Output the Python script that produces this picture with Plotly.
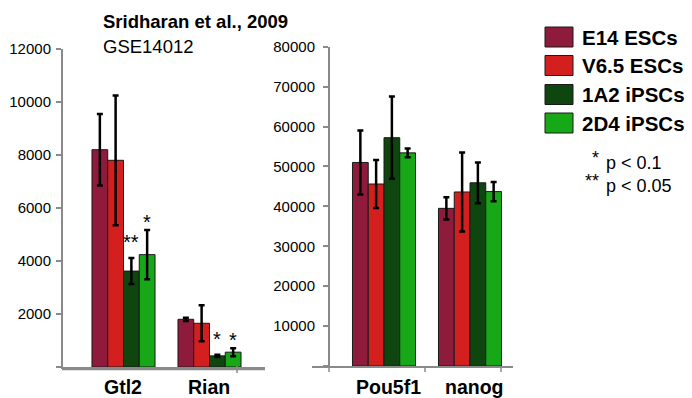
import plotly.graph_objects as go

# ---- data ----
series = ["E14 ESCs", "V6.5 ESCs", "1A2 iPSCs", "2D4 iPSCs"]
colors = ["#8e1a3c", "#d41f1f", "#0f460f", "#16a816"]

genes_low = ["Gtl2", "Rian"]
genes_high = ["Pou5f1", "nanog"]

# expression means per series (rows) and gene (cols)
low_vals = [[8200, 1800], [7800, 1650], [3620, 420], [4240, 560]]
low_errs = [[1350, 60], [2450, 680], [490, 40], [930, 150]]
high_vals = [[51000, 39500], [45600, 43600], [57200, 45900], [53400, 43700]]
high_errs = [[8000, 2800], [6000, 9900], [10300, 5100], [1100, 2400]]

# significance marks (same layout as low_vals)
low_sig = [["", ""], ["", ""], ["**", "*"], ["*", "*"]]

low_ticks = [0, 2000, 4000, 6000, 8000, 10000, 12000]
high_ticks = [0, 10000, 20000, 30000, 40000, 50000, 60000, 70000, 80000]

p_key = [("*", "p < 0.1"), ("**", "p < 0.05")]

W, H = 692, 398
FONT = "Liberation Sans, Arial, Helvetica, sans-serif"
AX = "#8a8a8a"


def fx(p):
    return p / W


def fy(p):
    return 1 - p / H


fig = go.Figure()

for i, name in enumerate(series):
    fig.add_trace(go.Bar(
        x=list(range(len(genes_low))), y=low_vals[i], name=name,
        marker=dict(color=colors[i], line=dict(color="#1a1a1a", width=1)),
        error_y=dict(type="data", array=low_errs[i], color="black", thickness=2.5, width=3),
        xaxis="x", yaxis="y", showlegend=False))
    fig.add_trace(go.Bar(
        x=list(range(len(genes_high))), y=high_vals[i], name=name,
        marker=dict(color=colors[i], line=dict(color="#1a1a1a", width=1)),
        error_y=dict(type="data", array=high_errs[i], color="black", thickness=2.5, width=3),
        xaxis="x2", yaxis="y2", showlegend=False))

bargap = 0.267
nser = len(series)
bw = (1 - bargap) / nser

annotations = []
# significance asterisks above error bars (extra lift in px per series)
star_lift = [0, 0, 9, 1.5]
for i in range(nser):
    for j in range(len(genes_low)):
        if low_sig[i][j]:
            annotations.append(dict(
                x=j + (i - (nser - 1) / 2) * bw, y=low_vals[i][j] + low_errs[i][j],
                xref="x", yref="y", text=low_sig[i][j], showarrow=False,
                yanchor="bottom", yshift=-6 + star_lift[i],
                font=dict(size=20, color="black", family=FONT)))

# category labels
for j, g in enumerate(genes_low):
    annotations.append(dict(x=j, y=fy(386.5), xref="x", yref="paper", text=f"<b>{g}</b>",
                            showarrow=False, yanchor="middle", xshift=-1,
                            font=dict(size=19.5, color="black", family=FONT)))
for j, g in enumerate(genes_high):
    annotations.append(dict(x=j, y=fy(386.5), xref="x2", yref="paper", text=f"<b>{g}</b>",
                            showarrow=False, yanchor="middle", xshift=4,
                            font=dict(size=19.5, color="black", family=FONT)))

# title
annotations.append(dict(x=fx(101), y=fy(21.5), xref="paper", yref="paper",
                        text="<b>Sridharan et al., 2009</b>", showarrow=False,
                        xanchor="left", yanchor="middle",
                        font=dict(size=18.5, color="black", family=FONT)))
annotations.append(dict(x=fx(101), y=fy(46.5), xref="paper", yref="paper",
                        text="GSE14012", showarrow=False, xanchor="left", yanchor="middle",
                        font=dict(size=18.5, color="black", family=FONT)))

# legend
shapes = []
leg_y = [37, 65.5, 94.5, 123]
for i, name in enumerate(series):
    cy = leg_y[i]
    shapes.append(dict(type="rect", xref="paper", yref="paper",
                       x0=fx(545), x1=fx(573), y0=fy(cy + 10), y1=fy(cy - 10),
                       fillcolor=colors[i], line=dict(color="#1a1a1a", width=1)))
    annotations.append(dict(x=fx(580), y=fy(cy + 0.5), xref="paper", yref="paper",
                            text=f"<b>{name}</b>", showarrow=False, xanchor="left",
                            yanchor="middle", font=dict(size=20.5, color="black", family=FONT)))

# p-value key
key_y = [163, 186]
for (stars, txt), cy in zip(p_key, key_y):
    annotations.append(dict(x=fx(604), y=fy(cy), xref="paper", yref="paper",
                            text=txt, showarrow=False, xanchor="left", yanchor="middle",
                            font=dict(size=18, color="black", family=FONT)))
    annotations.append(dict(x=fx(601), y=fy(cy - 5), xref="paper", yref="paper",
                            text=stars, showarrow=False, xanchor="right", yanchor="middle",
                            font=dict(size=18, color="black", family=FONT)))

# second baseline under the left panel and category tick marks
shapes.append(dict(type="line", xref="paper", yref="paper", x0=fx(62), x1=fx(265),
                   y0=fy(369.5), y1=fy(369.5), line=dict(color=AX, width=1.5)))
for px in [237]:
    shapes.append(dict(type="line", xref="paper", yref="paper", x0=fx(px), x1=fx(px),
                       y0=fy(366), y1=fy(373), line=dict(color=AX, width=1.5)))
for px in [329, 425, 501]:
    shapes.append(dict(type="line", xref="paper", yref="paper", x0=fx(px), x1=fx(px),
                       y0=fy(366), y1=fy(372), line=dict(color=AX, width=1.5)))

# axis geometry (86 px per category)
L_c0, R_c0, step = 123.5, 384.0, 86.0
x1_range = [(63 - L_c0) / step, (265 - L_c0) / step]
x2_range = [(312 - R_c0) / step, (513 - R_c0) / step]

yaxis_common = dict(showgrid=False, zeroline=False, showline=True, linecolor=AX, linewidth=2,
                    ticks="outside", ticklen=5, tickwidth=1.5, tickcolor=AX, automargin=False,
                    tickfont=dict(size=15, color="black", family=FONT))

fig.update_layout(
    width=W, height=H, autosize=False,
    margin=dict(l=0, r=0, t=0, b=0, pad=0, autoexpand=False),
    paper_bgcolor="white", plot_bgcolor="white",
    barmode="group", bargap=bargap, bargroupgap=0,
    xaxis=dict(domain=[fx(63), fx(265)], range=x1_range, showgrid=False, zeroline=False,
               showline=True, linecolor=AX, linewidth=1.5, showticklabels=False, ticks="",
               anchor="y", automargin=False),
    yaxis=dict(domain=[fy(367), fy(49)], range=[0, 12000], anchor="x",
               tickvals=low_ticks, ticktext=[""] + [str(t) for t in low_ticks[1:]],
               ticklabelstandoff=2, **yaxis_common),
    xaxis2=dict(domain=[fx(312), fx(513)], range=x2_range, showgrid=False, zeroline=False,
                showline=True, linecolor=AX, linewidth=2, showticklabels=False, ticks="",
                anchor="y2", automargin=False),
    yaxis2=dict(domain=[fy(366), fy(46.7)], range=[0, 80000], anchor="free",
                position=fx(329),
                tickvals=high_ticks, ticktext=[""] + [str(t) for t in high_ticks[1:]],
                ticklabelstandoff=5, **yaxis_common),
    annotations=annotations, shapes=shapes,
)

fig.write_html("out.html")
